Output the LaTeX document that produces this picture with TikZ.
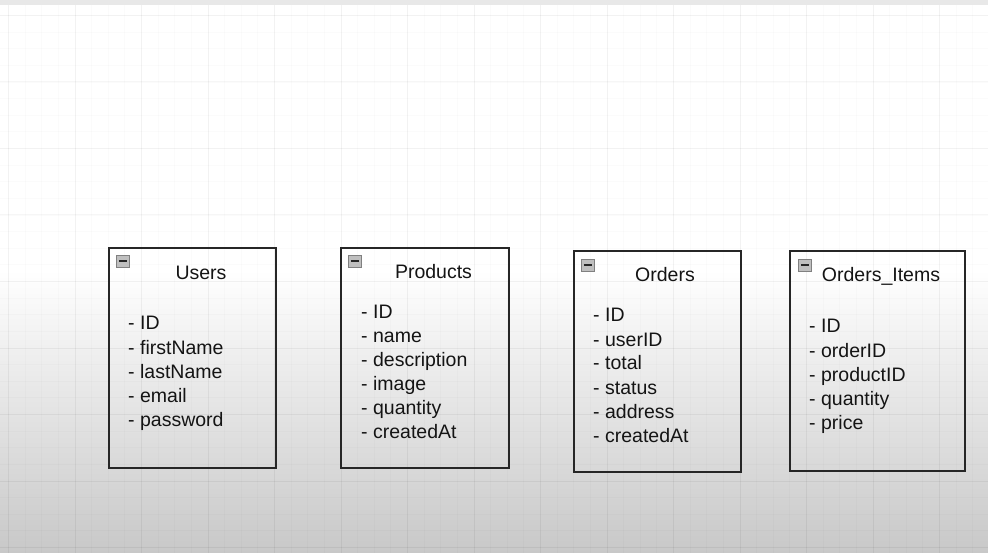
\documentclass[tikz,border=0pt]{standalone}
\usepackage{fontspec}
\setmainfont{Liberation Sans}
\definecolor{bgbottom}{RGB}{200,200,200}
\definecolor{topband}{RGB}{232,232,232}
\begin{document}
\begin{tikzpicture}[x=1pt,y=-1pt,
  tbl/.style={draw=black!85, line width=1.7pt, inner sep=0pt, anchor=north west},
  ttl/.style={font=\fontsize{19.5}{24}\selectfont, anchor=base, inner sep=0pt, text=black!92},
  itm/.style={font=\fontsize{19.5}{24}\selectfont, anchor=base west, inner sep=0pt, text=black!92},
  icon/.style={draw=black!50, fill=black!25, line width=0.9pt, minimum width=13pt, minimum height=12pt, inner sep=0pt, anchor=north west},
  minusbar/.style={draw=black!85, line width=2pt},
  minorln/.style={draw=black, opacity=0.014, line width=0.8pt},
  majorln/.style={draw=black, opacity=0.035, line width=1pt}]
% canvas
\useasboundingbox (0,0) rectangle (988,553);
\fill[white] (0,0) rectangle (988,553);
\shade[top color=white, bottom color=bgbottom] (0,270) rectangle (988,553);
\fill[topband] (0,0) rectangle (988,5);
% grid
\foreach \i in {0,...,59} \draw[minorln] ({8.5+16.625*\i},5) -- (8.5+16.625*\i,553);
\foreach \i in {0,...,33} \draw[minorln] (0,{15.5+16.625*\i}) -- (988,{15.5+16.625*\i});
\foreach \i in {0,...,14} \draw[majorln] ({8.5+66.5*\i},5) -- ({8.5+66.5*\i},553);
\foreach \i in {0,...,8} \draw[majorln] (0,{15.5+66.5*\i}) -- (988,{15.5+66.5*\i});
% tables
\node[tbl, minimum width=167pt, minimum height=220pt] (users) at (108,247) {};
\node[tbl, minimum width=168pt, minimum height=220pt] (products) at (340,247) {};
\node[tbl, minimum width=167pt, minimum height=221pt] (orders) at (573,250) {};
\node[tbl, minimum width=175pt, minimum height=220pt] (items) at (789,250) {};
% collapse icons
\node[icon] (ic1) at (116,255) {};
\node[icon] (ic2) at (348,255) {};
\node[icon] (ic3) at (581,259) {};
\node[icon] (ic4) at (798,259) {};
\foreach \c in {ic1,ic2,ic3,ic4}
  \draw[minusbar] ([xshift=-4pt]\c.center) -- ([xshift=4pt]\c.center);
% titles
\node[ttl] (tUsers) at (201,280) {Users};
\node[ttl] (tProducts) at (433.5,279) {Products};
\node[ttl] (tOrders) at (665,282) {Orders};
\node[ttl] (tItems) at (881,282) {Orders\_Items};
% fields
\foreach \t [count=\i] in {ID,firstName,lastName,email,password}
  \node[itm] (u\i) at (128,{330+24*(\i-1)}) {- \t};
\foreach \t [count=\i] in {ID,name,description,image,quantity,createdAt}
  \node[itm] (p\i) at (361,{319+23.8*(\i-1)}) {- \t};
\foreach \t [count=\i] in {ID,userID,total,status,address,createdAt}
  \node[itm] (o\i) at (593,{322+24*(\i-1)}) {- \t};
\foreach \t [count=\i] in {ID,orderID,productID,quantity,price}
  \node[itm] (i\i) at (809,{333+24.2*(\i-1)}) {- \t};
\end{tikzpicture}
\end{document}
